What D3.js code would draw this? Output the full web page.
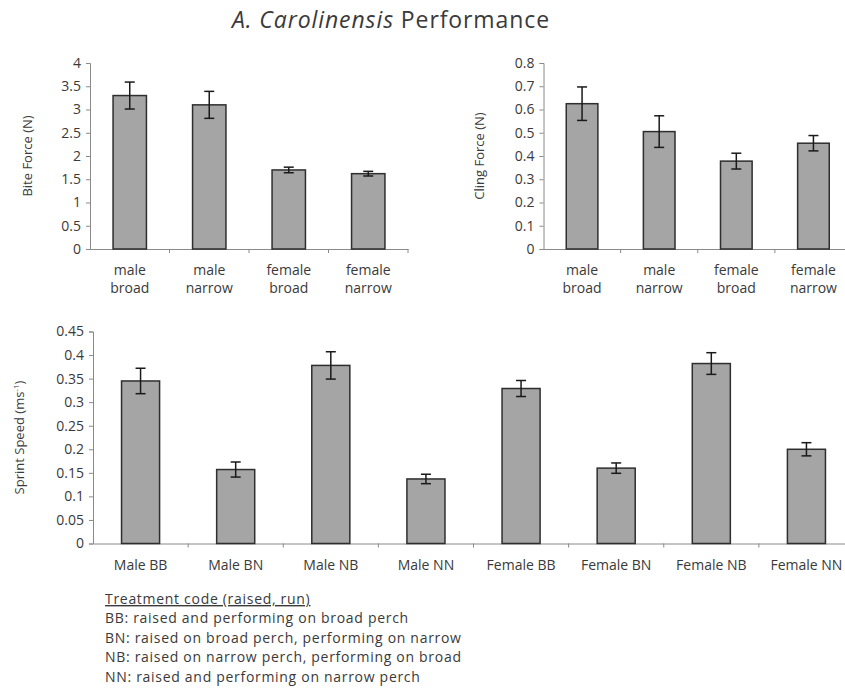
<!DOCTYPE html>
<html>
<head>
<meta charset="utf-8">
<script src="https://cdn.jsdelivr.net/npm/d3@7"></script>
<style>
  body { margin: 0; background: #fff; }
  text { font-family: "Open Sans", Lato, sans-serif; fill: #3a3a3a; }
</style>
</head>
<body>
<svg id="chart" width="845" height="688"></svg>
<script>
// Perch treatment groups for the force trials
const forceGroups = ["male broad", "male narrow", "female broad", "female narrow"];

// Bite force (N), mean and standard error
const biteForce = [3.3, 3.1, 1.7, 1.62];
const biteErr = [0.29, 0.29, 0.06, 0.05];
const biteTicks = [0, 0.5, 1, 1.5, 2, 2.5, 3, 3.5, 4];

// Cling force (N), mean and standard error
const clingForce = [0.625, 0.505, 0.378, 0.455];
const clingErr = [0.072, 0.068, 0.034, 0.033];
const clingTicks = [0, 0.1, 0.2, 0.3, 0.4, 0.5, 0.6, 0.7, 0.8];

// Sprint speed (m/s) by sex and treatment code
const sprintGroups = ["Male BB", "Male BN", "Male NB", "Male NN",
                      "Female BB", "Female BN", "Female NB", "Female NN"];
const sprintSpeed = [0.345, 0.157, 0.378, 0.137, 0.329, 0.16, 0.382, 0.2];
const sprintErr = [0.027, 0.016, 0.029, 0.01, 0.017, 0.011, 0.023, 0.014];
const sprintTicks = [0, 0.05, 0.1, 0.15, 0.2, 0.25, 0.3, 0.35, 0.4, 0.45];

// Treatment code key
const legendTitle = "Treatment code (raised, run)";
const legendLines = [
  "BB: raised and performing on broad perch",
  "BN: raised on broad perch, performing on narrow",
  "NB: raised on narrow perch, performing on broad",
  "NN: raised and performing on narrow perch"
];

const svg = d3.select("#chart");
const AXIS = "#8a8a8a";

function panel(o) {
  const g = svg.append("g");
  const x = d3.scaleBand().domain(o.cats).range([o.left, o.right]).padding(0);
  const y = d3.scaleLinear().domain([0, o.ticks[o.ticks.length - 1]]).range([o.bottom, o.top]);

  // value axis
  const ya = g.append("g").attr("transform", `translate(${o.left},0)`)
    .call(d3.axisLeft(y).tickValues(o.ticks).tickSize(4).tickPadding(5).tickFormat(d3.format("")));
  ya.select(".domain").attr("stroke", AXIS);
  ya.selectAll(".tick line").attr("stroke", AXIS);
  ya.selectAll(".tick text").style("font-size", "14px").style("font-family", "'Open Sans'").attr("fill", "#3a3a3a");

  // category axis with ticks between the groups
  const xa = g.append("g").attr("transform", `translate(0,${o.bottom})`)
    .call(d3.axisBottom(x).tickSize(0).tickFormat(""));
  xa.select(".domain").attr("stroke", AXIS);
  g.selectAll("line.sep").data(o.cats).join("line").attr("class", "sep")
    .attr("x1", d => x(d) + x.bandwidth()).attr("x2", d => x(d) + x.bandwidth())
    .attr("y1", o.bottom).attr("y2", o.bottom + 4).attr("stroke", AXIS);

  // bars
  const bw = x.bandwidth() * o.barFrac;
  g.selectAll("rect.bar").data(o.vals).join("rect").attr("class", "bar")
    .attr("x", (d, i) => x(o.cats[i]) + (x.bandwidth() - bw) / 2)
    .attr("y", d => y(d))
    .attr("width", bw)
    .attr("height", d => y(0) - y(d))
    .attr("fill", "#a5a5a5").attr("stroke", "#2e2e2e").attr("stroke-width", 1.5);

  // error bars
  const cx = i => x(o.cats[i]) + x.bandwidth() / 2;
  const eb = g.selectAll("g.err").data(o.vals).join("g").attr("class", "err")
    .attr("stroke", "#1a1a1a").attr("stroke-width", 1.5);
  eb.append("line").attr("x1", (d, i) => cx(i)).attr("x2", (d, i) => cx(i))
    .attr("y1", (d, i) => y(d + o.errs[i])).attr("y2", (d, i) => y(d - o.errs[i]));
  eb.append("line").attr("x1", (d, i) => cx(i) - 5).attr("x2", (d, i) => cx(i) + 5)
    .attr("y1", (d, i) => y(d + o.errs[i])).attr("y2", (d, i) => y(d + o.errs[i]));
  eb.append("line").attr("x1", (d, i) => cx(i) - 5).attr("x2", (d, i) => cx(i) + 5)
    .attr("y1", (d, i) => y(d - o.errs[i])).attr("y2", (d, i) => y(d - o.errs[i]));

  // category labels, split over lines where needed
  const lab = g.selectAll("text.cat").data(o.cats).join("text").attr("class", "cat")
    .attr("text-anchor", "middle").style("font-size", "14px")
    .attr("transform", d => `translate(${x(d) + x.bandwidth() / 2},${o.bottom + o.labelDy})`);
  lab.each(function (d) {
    const parts = o.splitLabels ? d.split(" ") : [d];
    d3.select(this).selectAll("tspan").data(parts).join("tspan")
      .attr("x", 0).attr("dy", (p, j) => j === 0 ? 0 : 18).text(p => p);
  });

  // value axis title
  const t = g.append("text").attr("text-anchor", "middle").style("font-size", "13px")
    .attr("transform", `translate(${o.titleX},${(o.top + o.bottom) / 2}) rotate(-90)`);
  t.append("tspan").text(o.title);
  if (o.titleSup) {
    t.append("tspan").attr("baseline-shift", "super").style("font-size", "8px").text(o.titleSup);
    t.append("tspan").text(o.titleEnd);
  }
}

panel({ cats: forceGroups, vals: biteForce, errs: biteErr, ticks: biteTicks,
  left: 90, right: 408, top: 63, bottom: 249, barFrac: 0.42,
  labelDy: 26, splitLabels: true, title: "Bite Force (N)", titleX: 32 });

panel({ cats: forceGroups, vals: clingForce, errs: clingErr, ticks: clingTicks,
  left: 543.5, right: 852, top: 63, bottom: 249, barFrac: 0.41,
  labelDy: 26, splitLabels: true, title: "Cling Force (N)", titleX: 484 });

panel({ cats: sprintGroups, vals: sprintSpeed, errs: sprintErr, ticks: sprintTicks,
  left: 93, right: 854, top: 331.5, bottom: 543.5, barFrac: 0.4,
  labelDy: 26, splitLabels: false, title: "Sprint Speed (ms", titleSup: "-1", titleEnd: ")", titleX: 24 });

// chart title
const title = svg.append("text").attr("x", 391).attr("y", 28).attr("text-anchor", "middle")
  .style("font-size", "23px").style("letter-spacing", "0.9px").attr("fill", "#222");
title.append("tspan").style("font-style", "italic").text("A. Carolinensis");
title.append("tspan").text(" Performance");

// treatment code key
const key = svg.append("g").attr("transform", "translate(105,0)")
  .style("font-size", "14px").style("letter-spacing", "0.7px");
key.append("text").attr("y", 604).attr("text-decoration", "underline").text(legendTitle);
key.selectAll("text.line").data(legendLines).join("text").attr("class", "line")
  .attr("y", (d, i) => 623 + i * 19.5).text(d => d);
</script>
</body>
</html>
